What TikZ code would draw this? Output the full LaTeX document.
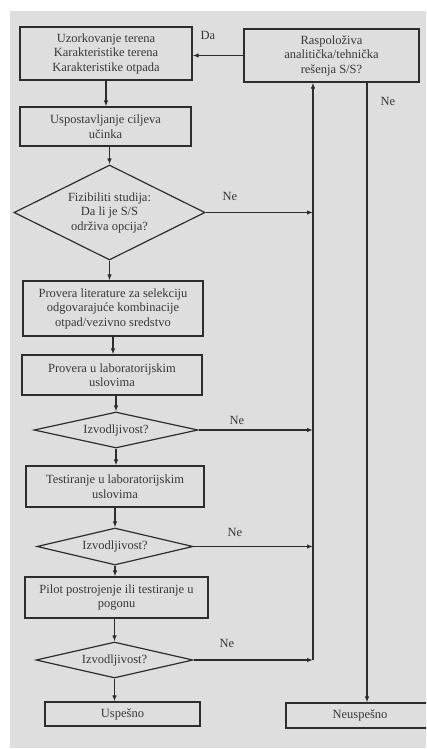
\documentclass[tikz,border=0pt]{standalone}
\usepackage{fontspec}
\setmainfont{Liberation Serif}
\usetikzlibrary{shapes.geometric,arrows.meta}
\definecolor{bggray}{RGB}{222,222,222}
\definecolor{ink}{RGB}{45,45,45}
\definecolor{txt}{RGB}{55,55,55}
\tikzset{
  txtfont/.style={font=\fontsize{12.5}{14.5}\selectfont, text=txt},
  box/.style={draw=ink, line width=1.2pt, rectangle, inner sep=0pt, align=center, txtfont},
  dia/.style={draw=ink, line width=1.2pt, diamond, inner sep=0pt, align=center, txtfont},
  lbl/.style={inner sep=0pt, txtfont},
  conn/.style={draw=ink, line width=1.1pt},
  arr/.style={conn, -{Latex[length=6pt,width=4.5pt]}}
}
\begin{document}
\begin{tikzpicture}[x=1pt,y=-1pt]
\useasboundingbox (0,0) rectangle (426,749);
\clip (0,0) rectangle (426,749);
\fill[bggray] (10,11) rectangle (430,748);

\node[box, minimum width=172pt, minimum height=53pt] (b1) at (106,53.5)
  {Uzorkovanje terena\\Karakteristike terena\\Karakteristike otpada};
\node[box, minimum width=175pt, minimum height=53pt] (R) at (331.5,55.5)
  {Raspoloživa\\analitička/tehnička\\rešenja S/S?};
\node[box, minimum width=171pt, minimum height=39pt] (b2) at (105.5,126.5)
  {Uspostavljanje ciljeva\\učinka};
\node[dia, minimum width=191pt, minimum height=95pt, shape aspect=2] (d1) at (109.5,212.5)
  {Fizibiliti studija:\\Da li je S/S\\održiva opcija?};
\node[box, minimum width=180pt, minimum height=55pt] (b3) at (113,308.5)
  {Provera literature za selekciju\\odgovarajuće kombinacije\\otpad/vezivno sredstvo};
\node[box, minimum width=180pt, minimum height=40pt] (b4) at (112,375)
  {Provera u laboratorijskim\\uslovima};
\node[dia, minimum width=164pt, minimum height=36pt, shape aspect=4.5] (d2) at (116,430)
  {Izvodljivost?};
\node[box, minimum width=178pt, minimum height=41pt] (b5) at (115,486.5)
  {Testiranje u laboratorijskim\\uslovima};
\node[dia, minimum width=156pt, minimum height=37pt, shape aspect=4.2] (d3) at (115,546.5)
  {Izvodljivost?};
\node[box, minimum width=183pt, minimum height=41pt] (b6) at (116.5,597.5)
  {Pilot postrojenje ili testiranje u\\pogonu};
\node[dia, minimum width=157pt, minimum height=36pt, shape aspect=4.3] (d4) at (114.5,660)
  {Izvodljivost?};
\node[box, minimum width=155pt, minimum height=24pt] (us) at (122.5,714) {Uspešno};
\node[box, minimum width=148pt, minimum height=25pt] (ne) at (360,715.5) {Neuspešno};

\coordinate (vb) at (313,660);
\coordinate (vr) at (367,82);

% labels
\node[lbl] (lda) at (208,35) {Da};
\node[lbl] (lne0) at (388,101) {Ne};
\node[lbl] (lne1) at (230,196) {Ne};
\node[lbl] (lne2) at (237,420) {Ne};
\node[lbl] (lne3) at (235,532) {Ne};
\node[lbl] (lne4) at (227,643) {Ne};

% connectors
\draw[arr] (R.west) -- (R.west -| b1.east);
\draw[arr] (b1.south) -- (b1.south |- b2.north);
\draw[arr] (b2.south -| d1.north) -- (d1.north);
\draw[arr] (d1.south) -- (d1.south |- b3.north);
\draw[arr] (b3.south) -- (b3.south |- b4.north);
\draw[arr] (b4.south -| d2.north) -- (d2.north);
\draw[arr] (d2.south) -- (d2.south |- b5.north);
\draw[arr] (b5.south -| d3.north) -- (d3.north);
\draw[arr] (d3.south) -- (d3.south |- b6.north);
\draw[arr] (b6.south -| d4.north) -- (d4.north);
\draw[arr] (d4.south) -- (d4.south |- us.north);

\draw[arr] (d1.east) -- (d1.east -| vb);
\draw[arr] (d2.east) -- (d2.east -| vb);
\draw[arr] (d3.east) -- (d3.east -| vb);
\draw[arr] (d4.east) -- (vb);
\draw[arr] (vb) -- (vb |- R.south);
\draw[arr] (vr |- R.south) -- (vr |- ne.north);
\end{tikzpicture}
\end{document}
